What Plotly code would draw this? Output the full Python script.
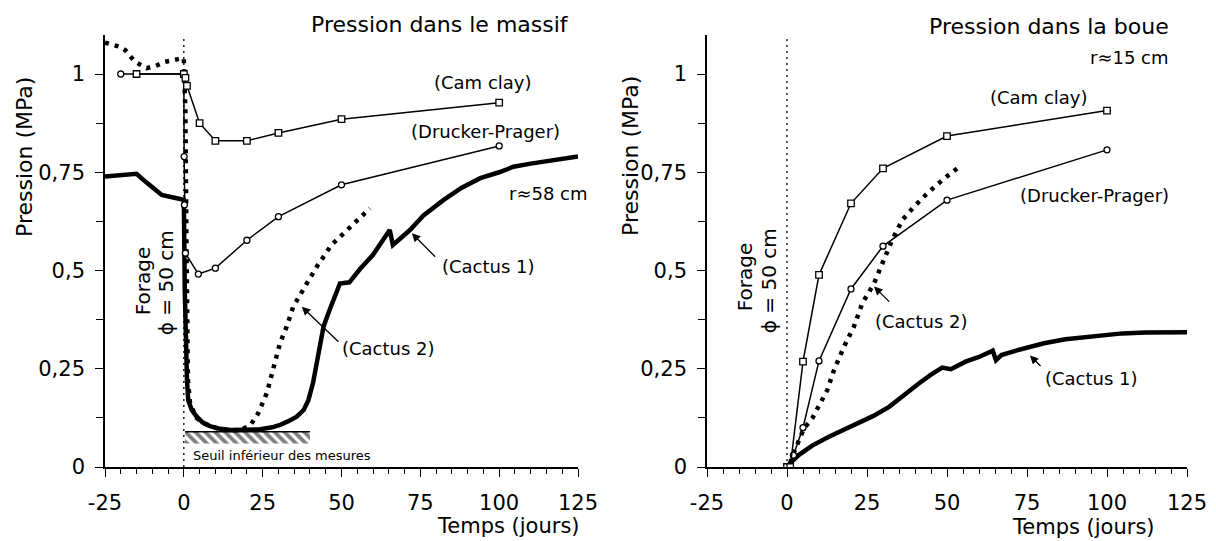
import plotly.graph_objects as go

FONT = "DejaVu Sans"

# ---------------- Pression dans le massif (r≈58 cm) ----------------
massif_cam_t = [-15, 0, 0.5, 1, 5, 10, 20, 30, 50, 100]
massif_cam_p = [1.0, 1.0, 0.99, 0.97, 0.875, 0.83, 0.83, 0.85, 0.885, 0.927]

massif_dp_t = [-20, 0, 0.1, 0.2, 0.5, 4.6, 10, 20, 30, 50, 100]
massif_dp_p = [1.0, 1.0, 0.79, 0.667, 0.544, 0.491, 0.506, 0.577, 0.637, 0.718, 0.817]

massif_c1_t = [-25, -15, -12, -9, -7, -3, 0, 0.3, 0.6, 1.0, 1.4, 2.5, 4.1, 6, 8.3, 11,
               14.7, 19, 24.2, 28, 30.5, 33, 35.8, 38, 39.5, 41, 42.2, 43.3, 44.3, 46,
               47.4, 49.5, 52.5, 56, 60, 63, 65.3, 66.3, 68.5, 71.7, 76, 82.3, 88, 94,
               100, 104.5, 110, 118, 125]
massif_c1_p = [0.739, 0.746, 0.725, 0.705, 0.692, 0.685, 0.68, 0.45, 0.3, 0.22, 0.17, 0.145,
               0.128, 0.113, 0.104, 0.098, 0.094, 0.094, 0.096, 0.101, 0.107, 0.116, 0.128,
               0.145, 0.17, 0.215, 0.272, 0.32, 0.357, 0.395, 0.425, 0.467, 0.47, 0.505,
               0.54, 0.575, 0.603, 0.565, 0.58, 0.603, 0.64, 0.679, 0.71, 0.735, 0.75,
               0.764, 0.772, 0.782, 0.79]

massif_c2_t = [-25, -20.2, -18.6, -15.5, -11.8, -9.1, -6, -3.3, -0.7, 0, 0.5, 0.8, 1.0, 1.3,
               2, 4, 6, 8.3, 11, 14.7, 18, 21, 23.6, 26.3, 28.4, 30.5, 32.6, 34.7, 38.4,
               42.2, 46.8, 52.2, 59]
massif_c2_p = [1.08, 1.069, 1.061, 1.031, 1.015, 1.02, 1.031, 1.037, 1.04, 1.04, 0.9, 0.6,
               0.35, 0.22, 0.16, 0.125, 0.112, 0.104, 0.097, 0.093, 0.095, 0.105, 0.137,
               0.188, 0.247, 0.315, 0.357, 0.408, 0.459, 0.51, 0.565, 0.605, 0.658]

# seuil inférieur des mesures (bande hachurée)
seuil_t = [0.4, 40]
seuil_p = [0.06, 0.09]

# ---------------- Pression dans la boue (r≈15 cm) ----------------
boue_cam_t = [0, 1, 5, 10, 20, 30, 50, 100]
boue_cam_p = [0, 0, 0.268, 0.489, 0.671, 0.76, 0.842, 0.907]

boue_dp_t = [0, 2, 5, 10, 20, 30, 50, 100]
boue_dp_p = [0, 0.03, 0.1, 0.27, 0.453, 0.562, 0.679, 0.807]

boue_c1_t = [0, 1, 3.75, 8, 13.1, 18, 23.5, 27, 31.9, 36, 41.3, 45, 48.5, 51.2, 55.8, 60,
             64.3, 65.3, 67, 71.6, 76, 80.3, 87, 94, 100, 104.8, 112, 125]
boue_c1_p = [0, 0.01, 0.031, 0.055, 0.077, 0.095, 0.115, 0.13, 0.153, 0.18, 0.213, 0.235,
             0.253, 0.249, 0.268, 0.28, 0.296, 0.272, 0.285, 0.296, 0.305, 0.315, 0.325,
             0.332, 0.336, 0.34, 0.342, 0.343]

boue_c2_t = [1, 1.6, 5.3, 7.9, 12.6, 14.7, 17.8, 20.9, 23.5, 27.2, 29.8, 32.9, 36, 39.2,
             43.3, 48.5, 53.2]
boue_c2_p = [0.01, 0.026, 0.098, 0.124, 0.196, 0.247, 0.306, 0.357, 0.416, 0.467, 0.518,
             0.578, 0.628, 0.658, 0.692, 0.73, 0.76]

# axes
t_ticks = [-25, 0, 25, 50, 75, 100, 125]
t_labels = ["-25", "0", "25", "50", "75", "100", "125"]
p_ticks = [0, 0.25, 0.5, 0.75, 1]
p_labels = ["0", "0,25", "0,5", "0,75", "1"]
forage_t = 0
p_top = 1.1

fig = go.Figure()


def model_line(t, p, symbol, size, xa, ya):
    fig.add_trace(go.Scatter(
        x=t, y=p, mode="lines+markers", xaxis=xa, yaxis=ya,
        line=dict(color="black", width=1.5),
        marker=dict(symbol=symbol, size=size, color="white",
                    line=dict(color="black", width=1.3)),
        hoverinfo="skip"))


def cactus1(t, p, xa, ya):
    fig.add_trace(go.Scatter(x=t, y=p, mode="lines", xaxis=xa, yaxis=ya,
                             line=dict(color="black", width=4.5), hoverinfo="skip"))


def cactus2(t, p, xa, ya):
    fig.add_trace(go.Scatter(x=t, y=p, mode="lines", xaxis=xa, yaxis=ya,
                             line=dict(color="black", width=4.5, dash="4px,6px"),
                             hoverinfo="skip"))


def forage_line(xa, ya):
    fig.add_trace(go.Scatter(x=[forage_t, forage_t], y=[0, p_top], mode="lines",
                             xaxis=xa, yaxis=ya,
                             line=dict(color="black", width=1.3, dash="2px,4px"),
                             hoverinfo="skip"))


# left panel
forage_line("x", "y")
fig.add_trace(go.Scatter(
    x=[seuil_t[0], seuil_t[1], seuil_t[1], seuil_t[0], seuil_t[0]],
    y=[seuil_p[0], seuil_p[0], seuil_p[1], seuil_p[1], seuil_p[0]],
    mode="lines", fill="toself", line=dict(width=0, color="rgba(0,0,0,0)"),
    fillcolor="white",
    fillpattern=dict(shape="\\", fgcolor="black", bgcolor="white", size=7, solidity=0.55),
    xaxis="x", yaxis="y", hoverinfo="skip"))
fig.add_trace(go.Scatter(x=seuil_t, y=[seuil_p[1], seuil_p[1]], mode="lines",
                         xaxis="x", yaxis="y", line=dict(color="black", width=1.5),
                         hoverinfo="skip"))
cactus2(massif_c2_t, massif_c2_p, "x", "y")
cactus1(massif_c1_t, massif_c1_p, "x", "y")
model_line(massif_dp_t, massif_dp_p, "circle", 6, "x", "y")
model_line(massif_cam_t, massif_cam_p, "square", 6.5, "x", "y")

# right panel
forage_line("x2", "y2")
cactus2(boue_c2_t, boue_c2_p, "x2", "y2")
cactus1(boue_c1_t, boue_c1_p, "x2", "y2")
model_line(boue_dp_t, boue_dp_p, "circle", 6, "x2", "y2")
model_line(boue_cam_t, boue_cam_p, "square", 6.5, "x2", "y2")

W, H = 1216, 541


def xaxis_cfg(x0, x1):
    return dict(domain=[x0 / W, x1 / W], range=[-25, 125], tickvals=t_ticks,
                ticktext=t_labels, ticks="outside", ticklen=8, tickwidth=1.4,
                tickcolor="black", showline=True, linecolor="black", linewidth=1.6,
                showgrid=False, zeroline=False, ticklabelstandoff=8, automargin=False,
                tickfont=dict(family=FONT, size=21, color="black"),
                minor=dict(tickmode="linear", dtick=5, tick0=0, ticks="outside",
                           ticklen=5, tickwidth=1.2, tickcolor="black", showgrid=False))


def yaxis_cfg(anchor):
    return dict(domain=[(H - 467) / H, (H - 34.7) / H], range=[0, p_top],
                tickvals=p_ticks, ticktext=p_labels, ticks="outside", ticklen=8,
                tickwidth=1.4, tickcolor="black", showline=True, linecolor="black",
                linewidth=1.6, showgrid=False, zeroline=False, anchor=anchor,
                ticklabelstandoff=6, automargin=False,
                tickfont=dict(family=FONT, size=21, color="black"),
                minor=dict(tickmode="linear", dtick=0.125, tick0=0, ticks="outside",
                           ticklen=7, tickwidth=1.2, tickcolor="black", showgrid=False))


ann = []


def text(x, y, s, xref, yref, size=18, angle=0, xanchor="center"):
    ann.append(dict(x=x, y=y, xref=xref, yref=yref, text=s, showarrow=False,
                    textangle=angle, xanchor=xanchor, yanchor="middle",
                    font=dict(family=FONT, size=size, color="black")))


def arrow(head, tail, xref, yref):
    ann.append(dict(x=head[0], y=head[1], ax=tail[0], ay=tail[1], xref=xref, yref=yref,
                    axref=xref, ayref=yref, text="", showarrow=True, arrowhead=2,
                    arrowsize=1.3, arrowwidth=1.3, arrowcolor="black"))


# titles and axis labels
text(440 / W, (H - 24) / H, "Pression dans le massif", "paper", "paper", size=22)
text(1048.5 / W, (H - 26) / H, "Pression dans la boue", "paper", "paper", size=22)
text(508 / W, (H - 526) / H, "Temps (jours)", "paper", "paper", size=21)
text(1083 / W, (H - 527) / H, "Temps (jours)", "paper", "paper", size=21)
text(24 / W, (H - 157) / H, "Pression (MPa)", "paper", "paper", size=22, angle=-90)
text(630 / W, (H - 156) / H, "Pression (MPa)", "paper", "paper", size=22, angle=-90)

# left labels
text(94.8, 0.978, "(Cam clay)", "x", "y")
text(95.8, 0.853, "(Drucker-Prager)", "x", "y")
text(115.8, 0.696, "r≈58 cm", "x", "y")
text(96.6, 0.51, "(Cactus 1)", "x", "y")
text(64.9, 0.302, "(Cactus 2)", "x", "y")
text(2.3, 0.03, "Seuil inférieur des mesures", "x", "y", size=13, xanchor="left")
text(-12.9, 0.473, "Forage", "x", "y", size=20, angle=-90)
text(-5.6, 0.468, "ϕ = 50 cm", "x", "y", size=20, angle=-90)
arrow((72.3, 0.595), (80.2, 0.531), "x", "y")
arrow((37.4, 0.408), (49.5, 0.315), "x", "y")

# right labels
text(78.6, 0.939, "(Cam clay)", "x2", "y2")
text(96.2, 0.692, "(Drucker-Prager)", "x2", "y2")
text(106.9, 1.043, "r≈15 cm", "x2", "y2")
text(95.0, 0.226, "(Cactus 1)", "x2", "y2")
text(42.1, 0.37, "(Cactus 2)", "x2", "y2")
text(-13.1, 0.483, "Forage", "x2", "y2", size=20, angle=-90)
text(-5.6, 0.473, "ϕ = 50 cm", "x2", "y2", size=20, angle=-90)
arrow((75.9, 0.284), (79.7, 0.253), "x2", "y2")
arrow((27.2, 0.459), (32.4, 0.417), "x2", "y2")

fig.update_layout(
    width=W, height=H, autosize=False,
    margin=dict(l=0, r=0, t=0, b=0),
    paper_bgcolor="white", plot_bgcolor="white",
    showlegend=False,
    font=dict(family=FONT, color="black"),
    xaxis=xaxis_cfg(105, 578) | dict(anchor="y"),
    yaxis=yaxis_cfg("x"),
    xaxis2=xaxis_cfg(707, 1187) | dict(anchor="y2"),
    yaxis2=yaxis_cfg("x2"),
    annotations=ann,
)

fig.write_html("out.html")
